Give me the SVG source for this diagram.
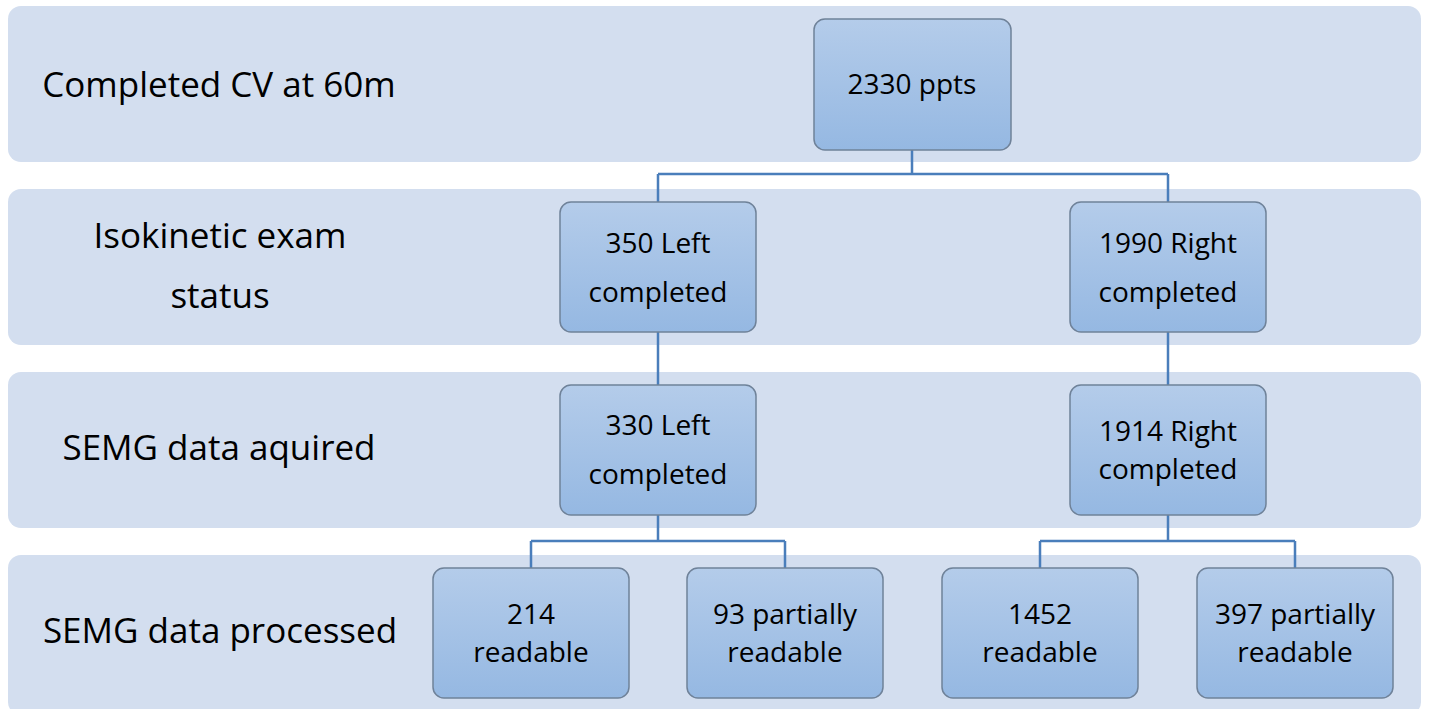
<svg xmlns="http://www.w3.org/2000/svg" width="1429" height="709" viewBox="0 0 1429 709">
<defs>
<linearGradient id="g" x1="0" y1="0" x2="0" y2="1">
<stop offset="0" stop-color="#B4CCEA"/>
<stop offset="1" stop-color="#95B8E2"/>
</linearGradient>
<style>
.band{fill:#D3DEEF}
.node{fill:url(#g);stroke:#6F8299;stroke-width:1.5}
.lbl{font-family:"Open Sans","Liberation Sans",sans-serif;font-size:35px;fill:#000;text-anchor:middle}
.nt{font-family:"Open Sans","Liberation Sans",sans-serif;font-size:28px;fill:#000;text-anchor:middle}
.con{fill:none;stroke:#4A7EBB;stroke-width:2.5}
</style>
</defs>
<g id="bands">
<rect class="band" x="8" y="6" width="1413" height="156" rx="13"/>
<rect class="band" x="8" y="189" width="1413" height="156" rx="13"/>
<rect class="band" x="8" y="372" width="1413" height="156" rx="13"/>
<rect class="band" x="8" y="555" width="1413" height="160" rx="13"/>
</g>
<g id="labels">
<text class="lbl" x="219" y="97">Completed CV at 60m</text>
<text class="lbl" x="220" y="248">Isokinetic exam</text>
<text class="lbl" x="220" y="308">status</text>
<text class="lbl" x="219" y="460">SEMG data aquired</text>
<text class="lbl" x="220" y="643">SEMG data processed</text>
</g>
<g id="connectors">
<path class="con" d="M912 150V174M658 174H1168M658 174V202M1168 174V202"/>
<path class="con" d="M658 332V385"/>
<path class="con" d="M1168 332V385"/>
<path class="con" d="M658 515V541M531 541H785M531 541V568M785 541V568"/>
<path class="con" d="M1168 515V541M1040 541H1295M1040 541V568M1295 541V568"/>
</g>
<g id="n2330">
<rect class="node" x="814" y="19" width="197" height="131" rx="11"/>
<text class="nt" x="912" y="94">2330 ppts</text>
</g>
<g id="n350L">
<rect class="node" x="560" y="202" width="196" height="130" rx="11"/>
<text class="nt" x="658" y="253">350 Left</text>
<text class="nt" x="658" y="302">completed</text>
</g>
<g id="n1990R">
<rect class="node" x="1070" y="202" width="196" height="130" rx="11"/>
<text class="nt" x="1168" y="253">1990 Right</text>
<text class="nt" x="1168" y="302">completed</text>
</g>
<g id="n330L">
<rect class="node" x="560" y="385" width="196" height="130" rx="11"/>
<text class="nt" x="658" y="435">330 Left</text>
<text class="nt" x="658" y="484">completed</text>
</g>
<g id="n1914R">
<rect class="node" x="1070" y="385" width="196" height="130" rx="11"/>
<text class="nt" x="1168" y="441">1914 Right</text>
<text class="nt" x="1168" y="479">completed</text>
</g>
<g id="n214">
<rect class="node" x="433" y="568" width="196" height="130" rx="11"/>
<text class="nt" x="531" y="624">214</text>
<text class="nt" x="531" y="662">readable</text>
</g>
<g id="n93">
<rect class="node" x="687" y="568" width="196" height="130" rx="11"/>
<text class="nt" x="785" y="624">93 partially</text>
<text class="nt" x="785" y="662">readable</text>
</g>
<g id="n1452">
<rect class="node" x="942" y="568" width="196" height="130" rx="11"/>
<text class="nt" x="1040" y="624">1452</text>
<text class="nt" x="1040" y="662">readable</text>
</g>
<g id="n397">
<rect class="node" x="1197" y="568" width="196" height="130" rx="11"/>
<text class="nt" x="1295" y="624">397 partially</text>
<text class="nt" x="1295" y="662">readable</text>
</g>
</svg>
